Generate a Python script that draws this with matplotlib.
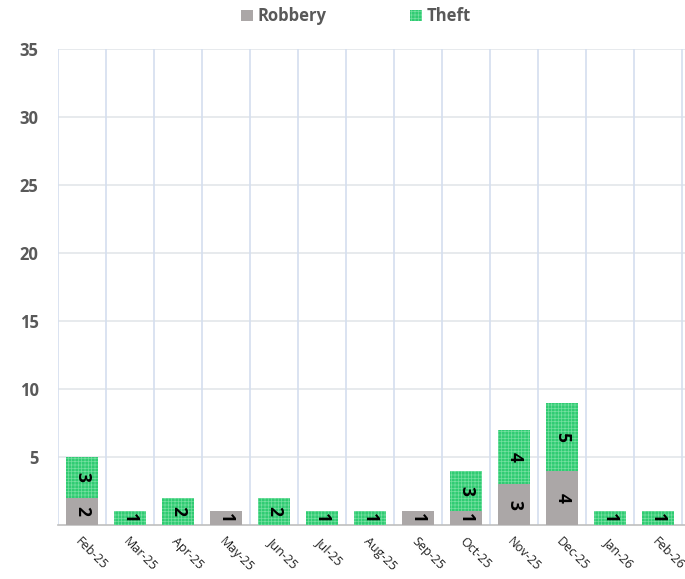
import matplotlib.pyplot as plt
import numpy as np

months = ["Feb-25", "Mar-25", "Apr-25", "May-25", "Jun-25", "Jul-25", "Aug-25",
          "Sep-25", "Oct-25", "Nov-25", "Dec-25", "Jan-26", "Feb-26"]
robbery = [2, 0, 0, 1, 0, 0, 0, 1, 1, 3, 4, 0, 0]
theft = [3, 1, 2, 0, 2, 1, 1, 0, 3, 4, 5, 1, 1]
yticks = [5, 10, 15, 20, 25, 30, 35]

plt.rcParams['font.family'] = ['Open Sans', 'DejaVu Sans']
plt.rcParams['hatch.linewidth'] = 0.5

fig = plt.figure(figsize=(6.85, 5.79), dpi=100)
ax = fig.add_axes([0.0847, 0.0933, 0.915, 0.822])

x = np.arange(len(months))
w = 0.67
ax.bar(x, robbery, w, color='#aba7a7', label='Robbery', zorder=3)
ax.bar(x, theft, w, bottom=robbery, color='#2fcc72', edgecolor='#74dfa0',
       hatch='+++++', linewidth=0, label='Theft', zorder=3)

# data labels, rotated like the original
for i in x:
    if robbery[i]:
        ax.text(i, robbery[i] / 2, str(robbery[i]), rotation=-90, ha='center',
                va='center', fontsize=12.5, fontweight='bold', color='black', zorder=4)
    if theft[i]:
        ax.text(i, robbery[i] + theft[i] / 2, str(theft[i]), rotation=-90,
                ha='center', va='center', fontsize=12.5, fontweight='bold',
                color='black', zorder=4)

ax.set_xlim(-0.5, len(months) - 0.45)
ax.set_ylim(0, 35)
ax.set_yticks(yticks)
ax.set_yticklabels([str(v) for v in yticks], fontsize=12, fontweight='bold', color='#595959')
ax.set_xticks(x)
ax.set_xticklabels(months, rotation=-45, ha='left', va='top', rotation_mode='anchor',
                   fontsize=9, color='#222222')
ax.tick_params(axis='both', length=0)
ax.tick_params(axis='y', pad=14)
ax.tick_params(axis='x', pad=7)

for v in yticks:
    ax.axhline(v, color='#e3e6ea', linewidth=1.2, zorder=1)
for b in np.arange(-0.5, len(months), 1):
    ax.axvline(b, color='#d4deef', linewidth=1.2, zorder=1)

for s in ['top', 'right', 'left']:
    ax.spines[s].set_visible(False)
ax.spines['bottom'].set_color('#bfbfbf')
ax.spines['bottom'].set_linewidth(1.2)

fig.legend(loc='upper center', bbox_to_anchor=(0.52, 1.013), ncol=2, frameon=False,
           prop={'weight': 'bold', 'size': 12}, labelcolor='#595959',
           handlelength=0.7, handleheight=0.7, handletextpad=0.3, columnspacing=5)

fig.savefig('out.png', dpi=100)
